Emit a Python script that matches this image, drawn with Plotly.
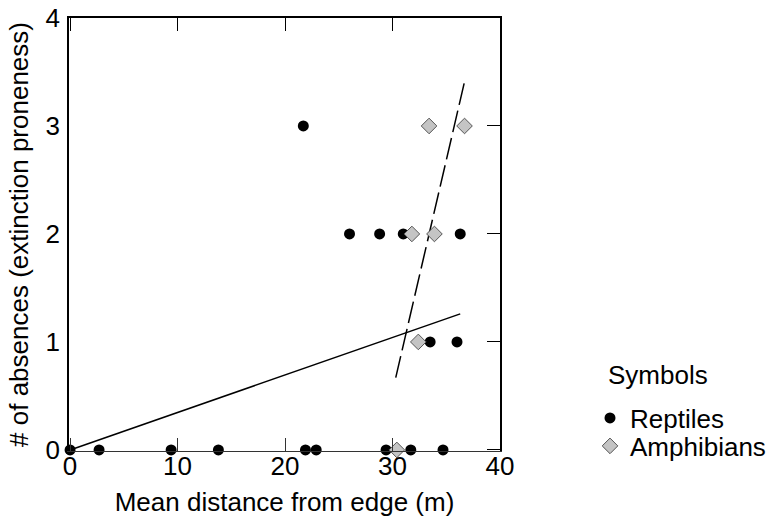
import plotly.graph_objects as go

# Reptiles (black circles)
rep_x = [0.0, 2.7, 9.4, 13.8, 21.9, 22.9, 29.4, 31.7, 34.7,
         21.7,
         26.0, 28.8, 31.0, 36.3,
         33.5, 36.0]
rep_y = [0, 0, 0, 0, 0, 0, 0, 0, 0,
         3,
         2, 2, 2, 2,
         1, 1]

# Amphibians (grey diamonds)
amp_x = [30.4, 33.4, 36.7, 31.8, 33.9, 32.4]
amp_y = [0, 3, 3, 2, 2, 1]

# Regression lines (end points)
rep_fit_x = [0.0, 36.3]
rep_fit_y = [0.0, 1.26]
amp_fit_x = [30.3, 36.7]
amp_fit_y = [0.67, 3.41]

x_ticks = [0, 10, 20, 30, 40]
y_ticks = [0, 1, 2, 3, 4]
x_range = [-0.1, 40]
y_range = [-0.01, 4]

FONT = "Liberation Sans, Arial, sans-serif"
FS = 26

fig = go.Figure()

fig.add_trace(go.Scatter(x=rep_fit_x, y=rep_fit_y, mode="lines",
                         line=dict(color="black", width=1.5),
                         showlegend=False, hoverinfo="skip"))
fig.add_trace(go.Scatter(x=amp_fit_x, y=amp_fit_y, mode="lines",
                         line=dict(color="black", width=1.5, dash="22px,6px"),
                         showlegend=False, hoverinfo="skip"))

fig.add_trace(go.Scatter(x=rep_x, y=rep_y, mode="markers", name="Reptiles",
                         marker=dict(symbol="circle", size=11, color="black",
                                     line=dict(width=0)),
                         cliponaxis=False, legend="legend"))
fig.add_trace(go.Scatter(x=amp_x, y=amp_y, mode="markers", name="Amphibians",
                         marker=dict(symbol="diamond", size=12, color="#c4c4c4",
                                     line=dict(width=1, color="#555555")),
                         cliponaxis=False, legend="legend2"))

# helper (empty) trace to activate mirrored top/right axes
fig.add_trace(go.Scatter(x=[], y=[], xaxis="x2", yaxis="y2",
                         showlegend=False, hoverinfo="skip"))

W, H = 768, 517
L, R, T, B = 69, 268, 18, 66
pw = W - L - R
ph = H - T - B

def px_x(px):
    return (px - L) / pw

def px_y(py):
    return (H - B - py) / ph

fig.update_layout(
    width=W, height=H,
    margin=dict(l=L, r=R, t=T, b=B, pad=0, autoexpand=False),
    paper_bgcolor="white", plot_bgcolor="white",
    font=dict(family=FONT, size=FS, color="black"),
    xaxis=dict(range=x_range, tickvals=x_ticks, ticks="inside", ticklen=13,
               tickwidth=1, tickcolor="#333", showgrid=False, zeroline=False,
               showline=True, linecolor="#333", linewidth=1, automargin=False,
               ticklabelstandoff=-8,
               title=dict(text="Mean distance from edge (m)", standoff=16,
                          font=dict(size=FS)),
               tickfont=dict(size=FS)),
    yaxis=dict(range=y_range, tickvals=y_ticks, ticks="", showgrid=False,
               zeroline=False, showline=True, linecolor="black", linewidth=1.5,
               ticklabelstandoff=2, automargin=False,
               title=dict(text="# of absences (extinction proneness)", standoff=9,
                          font=dict(size=FS)),
               tickfont=dict(size=FS)),
    xaxis2=dict(range=x_range, overlaying="x", side="top", tickvals=x_ticks,
                ticks="inside", ticklen=13, tickwidth=1, tickcolor="black",
                showticklabels=False, showgrid=False, zeroline=False,
                showline=True, linecolor="black", linewidth=1.5, automargin=False),
    yaxis2=dict(range=y_range, overlaying="y", side="right", tickvals=y_ticks,
                ticks="inside", ticklen=13, tickwidth=1, tickcolor="black",
                showticklabels=False, showgrid=False, zeroline=False,
                showline=True, linecolor="black", linewidth=1.5, automargin=False),
    legend=dict(x=px_x(590), y=px_y(418), xanchor="left", yanchor="middle",
                bgcolor="rgba(0,0,0,0)", borderwidth=0,
                font=dict(size=FS), itemwidth=30),
    legend2=dict(x=px_x(590), y=px_y(446), xanchor="left", yanchor="middle",
                 bgcolor="rgba(0,0,0,0)", borderwidth=0,
                 font=dict(size=FS), itemwidth=30),
    annotations=[dict(text="Symbols", xref="paper", yref="paper",
                      x=px_x(606), y=px_y(375), xanchor="left", yanchor="middle",
                      showarrow=False, font=dict(size=FS))],
)

fig.write_html("out.html",
               config={"displayModeBar": False},
               post_script="document.body.style.margin='0';"
                           "document.body.style.overflow='hidden';")
